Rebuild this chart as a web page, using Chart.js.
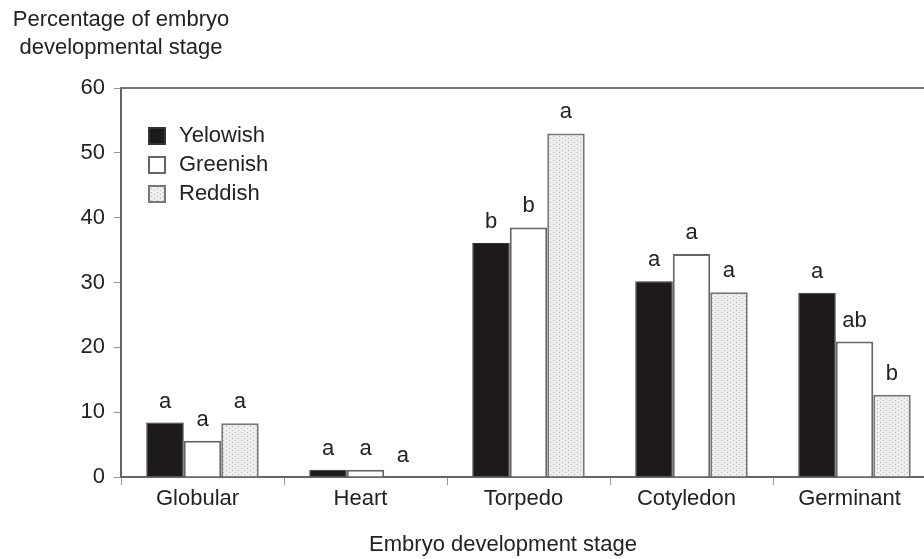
<!DOCTYPE html>
<html>
<head>
<meta charset="utf-8">
<script src="https://cdn.jsdelivr.net/npm/chart.js@4"></script>
<style>
html, body { margin: 0; padding: 0; background: #fff; overflow: hidden; }
#wrap { width: 940px; height: 559px; position: relative; }
</style>
</head>
<body>
<div id="wrap"><canvas id="embryoChart"></canvas></div>
<script>
const stages = ['Globular', 'Heart', 'Torpedo', 'Cotyledon', 'Germinant'];
const yellowish = [8.4, 1.1, 36.1, 30.2, 28.4];
const greenish = [5.6, 1.1, 38.5, 34.4, 20.9];
const reddish = [8.3, 0, 53.0, 28.5, 12.7];
const yellowishLetters = ['a', 'a', 'b', 'a', 'a'];
const greenishLetters = ['a', 'a', 'b', 'a', 'ab'];
const reddishLetters = ['a', 'a', 'a', 'a', 'b'];
const yTitle = ['Percentage of embryo', 'developmental stage'];
const xTitle = 'Embryo development stage';

const FONT = "'Liberation Sans', Arial, sans-serif";

function dotPattern() {
    const c = document.createElement('canvas');
    c.width = 6; c.height = 4;
    const g = c.getContext('2d');
    g.fillStyle = '#eeeeee';
    g.fillRect(0, 0, 6, 4);
    g.fillStyle = '#b5b5b5';
    g.fillRect(1, 0, 1, 1);
    g.fillRect(4, 2, 1, 1);
    return g.createPattern(c, 'repeat');
}
const dots = dotPattern();

// letters above each bar
const lettersPlugin = {
    id: 'letters',
    afterDatasetsDraw(chart) {
        const ctx = chart.ctx;
        ctx.save();
        ctx.font = '22px ' + FONT;
        ctx.fillStyle = '#222';
        ctx.textAlign = 'center';
        ctx.textBaseline = 'middle';
        chart.data.datasets.forEach((ds, i) => {
            chart.getDatasetMeta(i).data.forEach((bar, j) => {
                ctx.fillText(ds.letters[j], bar.x, bar.y - 21);
            });
        });
        ctx.restore();
    }
};

// legend inside plot, titles, top border
const extrasPlugin = {
    id: 'extras',
    afterDraw(chart) {
        const ctx = chart.ctx;
        const area = chart.chartArea;
        ctx.save();
        ctx.strokeStyle = '#777';
        ctx.lineWidth = 2;
        ctx.beginPath();
        ctx.moveTo(area.left, area.top);
        ctx.lineTo(area.right, area.top);
        ctx.stroke();

        ctx.font = '22px ' + FONT;
        ctx.fillStyle = '#222';
        ctx.textAlign = 'center';
        ctx.textBaseline = 'middle';
        ctx.fillText(yTitle[0], 121, 20);
        ctx.fillText(yTitle[1], 121, 48);
        ctx.fillText(xTitle, 503, 545);

        ctx.textAlign = 'left';
        chart.data.datasets.forEach((ds, i) => {
            const y = area.top + 48 + i * 29;
            const x = area.left + 28;
            ctx.fillStyle = ds.backgroundColor;
            ctx.fillRect(x, y - 8, 16, 16);
            ctx.strokeStyle = ds.borderColor;
            ctx.lineWidth = 2;
            ctx.strokeRect(x, y - 8, 16, 16);
            ctx.fillStyle = '#222';
            ctx.fillText(ds.label, x + 30, y);
        });
        ctx.restore();
    }
};

new Chart(document.getElementById('embryoChart'), {
    type: 'bar',
    data: {
        labels: stages,
        datasets: [
            {
                label: 'Yelowish',
                data: yellowish,
                letters: yellowishLetters,
                backgroundColor: '#1e1a1b',
                borderColor: '#333',
                borderWidth: 1
            },
            {
                label: 'Greenish',
                data: greenish,
                letters: greenishLetters,
                backgroundColor: '#ffffff',
                borderColor: '#666',
                borderWidth: 2
            },
            {
                label: 'Reddish',
                data: reddish,
                letters: reddishLetters,
                backgroundColor: dots,
                borderColor: '#777',
                borderWidth: 2
            }
        ]
    },
    options: {
        responsive: true,
        maintainAspectRatio: false,
        animation: false,
        layout: { padding: { top: 88, right: 4, left: 0, bottom: 0 } },
        categoryPercentage: 0.69,
        barPercentage: 1.0,
        plugins: {
            legend: { display: false },
            tooltip: { enabled: false }
        },
        scales: {
            x: {
                offset: true,
                grid: { offset: true, drawOnChartArea: false, drawTicks: true, tickLength: 8, color: '#999' },
                border: { color: '#666', width: 2 },
                ticks: { font: { family: FONT, size: 22 }, color: '#222', padding: 1, labelOffset: -5 },
                afterFit(scale) { scale.height = 82; }
            },
            y: {
                min: 0,
                max: 60,
                ticks: { stepSize: 10, font: { family: FONT, size: 22 }, color: '#222', padding: 9 },
                grid: { drawOnChartArea: false, drawTicks: true, tickLength: 7, color: '#999' },
                border: { color: '#666', width: 2 },
                afterFit(scale) { scale.width = 121; }
            }
        }
    },
    plugins: [lettersPlugin, extrasPlugin]
});
</script>
</body>
</html>
